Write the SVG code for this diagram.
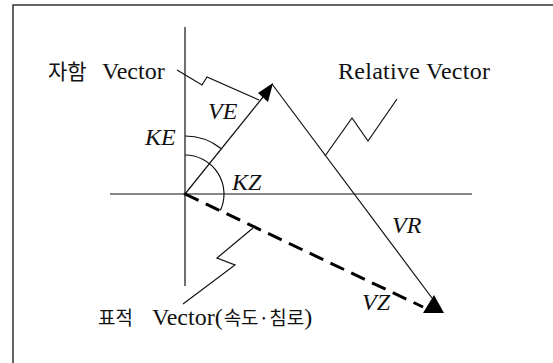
<svg xmlns="http://www.w3.org/2000/svg" width="553" height="363" viewBox="0 0 553 363">
<style>
.ln{stroke:#111;stroke-width:1.2;fill:none}
.fr{stroke:#333;stroke-width:1.5;fill:none}
.lab{font-family:"Liberation Serif","Noto Sans CJK KR",serif;font-size:24px;fill:#111}
.ko{font-family:"Noto Sans CJK KR","Liberation Serif",sans-serif}
.it{font-family:"Liberation Serif",serif;font-style:italic;font-size:24px;fill:#111}
.head{fill:#000}
</style>
<rect width="553" height="363" fill="#fff"/>
<g id="frame">
<path class="fr" d="M13,363 V5 H553"/>
</g>
<g id="axes">
<line class="ln" x1="185" y1="27" x2="185" y2="286"/>
<line class="ln" x1="110" y1="194" x2="472" y2="194"/>
<circle cx="185" cy="194" r="1.5" fill="#111"/>
</g>
<g id="connectors">
<line id="ve-line" class="ln" stroke-width="1.5" x1="185" y1="194" x2="263" y2="97"/>
<polygon id="ve-head" class="head" points="273,83 258,93 268,102"/>
<line id="vr-line" class="ln" x1="272" y1="84" x2="432" y2="298"/>
<line id="vz-line" stroke="#000" stroke-width="3" stroke-dasharray="15 8" x1="185" y1="194" x2="423" y2="307"/>
<polygon id="vz-head" class="head" points="434,295 423,313 444,313"/>
<path id="ke-arc" class="ln" d="M185,136 A58,58 0 0 1 221,148.5"/>
<path id="kz-arc" class="ln" d="M185,155 A39,39 0 0 1 220.3,210.6"/>
<polyline id="own-callout" class="ln" points="177,70 202,85 207,77 259,100"/>
<polyline id="rel-callout" class="ln" points="325,156 352,118 368,141 397,99"/>
<polyline id="tgt-callout" class="ln" points="183,304 235,265 217,258 253,228"/>
</g>
<g id="label-own"><text class="lab" x="48" y="79"><tspan class="ko" style="font-size:21px">자함</tspan><tspan x="102">Vector</tspan></text></g>
<g id="label-rel"><text class="lab" x="338" y="79" textLength="152" lengthAdjust="spacing">Relative Vector</text></g>
<g id="label-tgt"><text class="lab" x="98" y="325"><tspan class="ko" style="font-size:19px">표적</tspan><tspan x="152">Vector(</tspan><tspan class="ko" style="font-size:19px" dx="1">속도·침로</tspan>)</text></g>
<g id="label-ve"><text class="it" x="208" y="119">VE</text></g>
<g id="label-ke"><text class="it" x="145" y="145">KE</text></g>
<g id="label-kz"><text class="it" x="232" y="190">KZ</text></g>
<g id="label-vr"><text class="it" x="392" y="233">VR</text></g>
<g id="label-vz"><text class="it" x="362" y="310">VZ</text></g>
</svg>
